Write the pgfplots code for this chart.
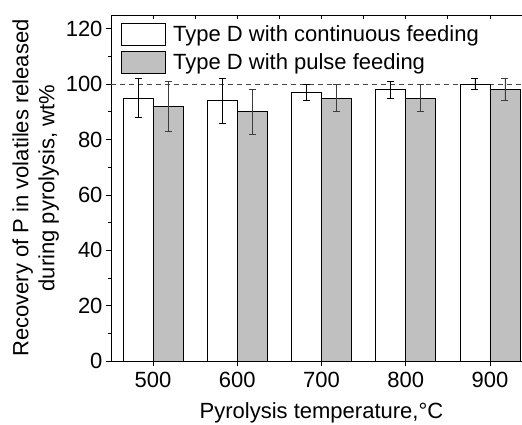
\documentclass[border=0pt]{standalone}
\usepackage{pgfplots}
\pgfplotsset{compat=1.18}
\usepackage{fontspec}
\setmainfont{Liberation Sans}
\definecolor{barGray}{RGB}{192,192,192}
\definecolor{errGray}{RGB}{60,60,60}
\definecolor{refGray}{RGB}{70,70,70}

% recovery of P (wt%) with standard deviation
\pgfplotstableread{
x  y    e
0  95   7
1  94   8
2  97   3
3  98   3
4  100  2
}\continuous
\pgfplotstableread{
x  y    e
0  92   9
1  90   8
2  95   5
3  95   5
4  98   4
}\pulse

\pgfplotsset{
  legbox/.style={legend image code/.code={\draw[##1] (0bp,-11bp) rectangle (44bp,11bp);}},
}

\begin{document}
\begin{tikzpicture}
\begin{axis}[
  at={(0,0)}, anchor=south west,
  scale only axis, width=421bp, height=346bp,
  xmin=-0.5, xmax=4.5, ymin=0, ymax=125,
  xtick={0,...,4}, xticklabels={500,600,700,800,900},
  xtick pos=bottom, ytick pos=left,
  ytick={0,20,...,120}, minor y tick num=1,
  tick align=outside, major tick length=5bp, minor tick length=3bp,
  tick style={line width=0.8bp, black},
  axis line style={line width=0.8bp},
  font=\fontsize{22bp}{26bp}\selectfont,
  /pgf/number format/assume math mode=true,
  ybar=0pt, bar width=30bp,
  xticklabel style={yshift=-3bp},
  xlabel={Pyrolysis temperature,°C},
  xlabel style={yshift=-8bp},
  ylabel={Recovery of P in volatiles released\\during pyrolysis, wt\%},
  ylabel style={align=center},
  legend cell align=left,
  legend style={at={(0.024,0.977)}, anchor=north west, draw=none, fill=none,
    inner sep=0pt, row sep=5bp, column sep=5bp,
    font=\fontsize{22bp}{26bp}\selectfont},
]
\draw[refGray, line width=0.8bp, dash pattern=on 5bp off 4bp]
  (axis cs:-0.5,100) -- (axis cs:4.5,100);
\addplot[legbox, draw=black, fill=white, line width=0.8bp,
  error bars/.cd, y dir=both, y explicit,
  error bar style={line width=0.8bp, black},
  error mark options={rotate=90, mark size=3.5bp, line width=0.8bp, black}]
  table[x=x, y=y, y error=e] {\continuous};
\addlegendentry{Type D with continuous feeding}
\addplot[legbox, draw=black, fill=barGray, line width=0.8bp,
  error bars/.cd, y dir=both, y explicit,
  error bar style={line width=0.8bp, errGray},
  error mark options={rotate=90, mark size=3.5bp, line width=0.8bp, errGray}]
  table[x=x, y=y, y error=e] {\pulse};
\addlegendentry{Type D with pulse feeding}
\end{axis}
% top axis: inward ticks at categories and midpoints
\begin{axis}[
  at={(0,0)}, anchor=south west,
  scale only axis, width=421bp, height=346bp,
  xmin=-0.5, xmax=4.5, ymin=0, ymax=125,
  axis x line*=top, hide y axis,
  xtick={0,...,4}, xticklabels={}, minor x tick num=1,
  tick align=inside, major tick length=4bp, minor tick length=4bp,
  tick style={line width=0.8bp, black},
  axis line style={line width=0.8bp},
]
\end{axis}
\pgfresetboundingbox
\path (-111bp,-64bp) rectangle (411bp,361bp);
\end{tikzpicture}
\end{document}
